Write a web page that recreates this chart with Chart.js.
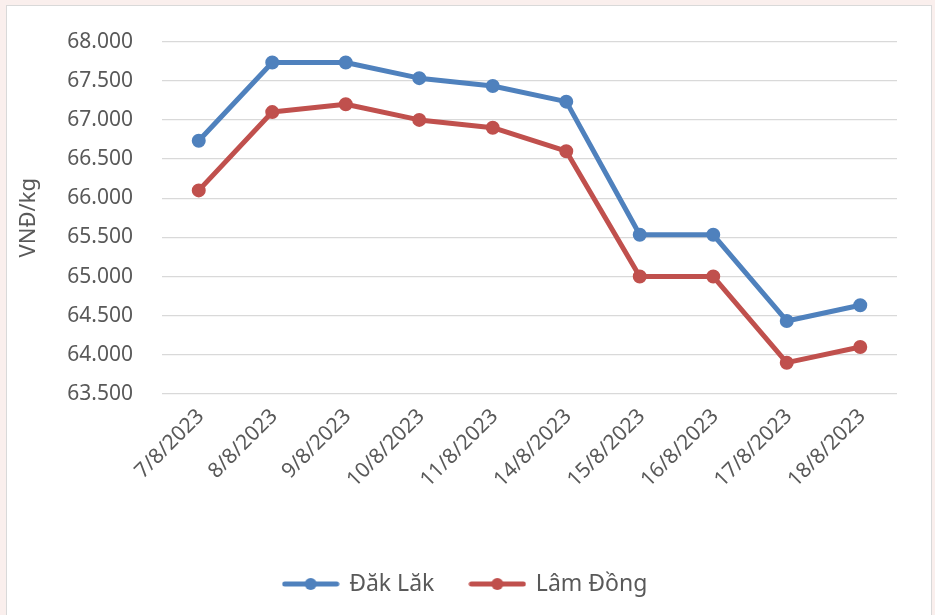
<!DOCTYPE html>
<html>
<head>
<meta charset="utf-8">
<script src="https://cdn.jsdelivr.net/npm/chart.js@4.4.0/dist/chart.umd.min.js"></script>
<style>
  html, body { margin: 0; padding: 0; background: #FAEFED; }
  body { position: relative; width: 935px; height: 615px; overflow: hidden; }
  #frame { position: absolute; left: 6px; top: 5px; width: 926px; height: 650px;
           background: #ffffff; border: 1px solid #D9D9D9; box-sizing: border-box; }
  #wrap { position: absolute; left: 0; top: 0; width: 935px; height: 615px; }
</style>
</head>
<body>
<div id="frame"></div>
<div id="wrap"><canvas id="chart" width="935" height="615"></canvas></div>
<script>
// Coffee price by province, VNĐ/kg
const dates = ['7/8/2023', '8/8/2023', '9/8/2023', '10/8/2023', '11/8/2023',
               '14/8/2023', '15/8/2023', '16/8/2023', '17/8/2023', '18/8/2023'];
const dakLak  = [66733, 67733, 67733, 67533, 67433, 67233, 65533, 65533, 64433, 64633];
const lamDong = [66100, 67100, 67200, 67000, 66900, 66600, 65000, 65000, 63900, 64100];
const seriesNames = ['Đăk Lăk', 'Lâm Đồng'];
const yMin = 63500, yMax = 68000, yStep = 500;

const BLUE = '#4F81BD';
const RED = '#C0504D';
const TEXT = '#595959';
const FONT = "'Noto Sans', 'DejaVu Sans', sans-serif";

// Legend marker: a short line with a dot in the middle
function makeMarker(color) {
  const c = document.createElement('canvas');
  c.width = 58; c.height = 16;
  const g = c.getContext('2d');
  g.strokeStyle = color; g.lineWidth = 5; g.lineCap = 'round';
  g.beginPath(); g.moveTo(3, 8); g.lineTo(55, 8); g.stroke();
  g.fillStyle = color;
  g.beginPath(); g.arc(29, 8, 6, 0, Math.PI * 2); g.fill();
  return c;
}
const markers = [makeMarker(BLUE), makeMarker(RED)];

function lineSet(label, data, color) {
  return {
    label, data,
    borderColor: color, backgroundColor: color,
    borderWidth: 5, borderJoinStyle: 'round', borderCapStyle: 'round',
    pointRadius: 6, pointHoverRadius: 6, pointBorderWidth: 2,
    pointBackgroundColor: color, pointBorderColor: color,
    tension: 0, fill: false, clip: false
  };
}

// Centre the legend row under the whole canvas rather than the padded box
const legendShift = {
  id: 'legendShift',
  afterLayout(chart) {
    const lg = chart.legend;
    if (lg) { lg.left += 17; lg.right += 17; }
  }
};

new Chart(document.getElementById('chart'), {
  type: 'line',
  data: {
    labels: dates,
    datasets: [lineSet(seriesNames[0], dakLak, BLUE), lineSet(seriesNames[1], lamDong, RED)]
  },
  plugins: [legendShift],
  options: {
    responsive: false,
    animation: false,
    events: [],
    layout: { padding: { left: 0, right: 38, top: 40, bottom: 9.5 } },
    plugins: {
      tooltip: { enabled: false },
      legend: {
        position: 'bottom',
        labels: {
          usePointStyle: true,
          pointStyleWidth: 54,
          padding: 36,
          color: TEXT,
          font: { family: FONT, size: 23 },
          generateLabels(chart) {
            const items = Chart.defaults.plugins.legend.labels.generateLabels(chart);
            items.forEach((it, i) => { it.pointStyle = markers[i]; });
            return items;
          }
        }
      }
    },
    scales: {
      x: {
        offset: true,
        grid: { display: false },
        border: { display: false },
        ticks: {
          color: TEXT,
          font: { family: FONT, size: 21 },
          minRotation: 45, maxRotation: 45,
          padding: 2,
          labelOffset: 2,
          autoSkip: false
        },
        afterFit(scale) { scale.height = 142.5; }
      },
      y: {
        min: yMin, max: yMax,
        border: { display: false },
        grid: { color: '#D9D9D9', lineWidth: 1.2, drawTicks: false },
        ticks: {
          stepSize: yStep,
          color: TEXT,
          font: { family: FONT, size: 21 },
          padding: 29,
          callback: v => (v / 1000).toFixed(3)
        },
        title: {
          display: true,
          text: 'VNĐ/kg',
          color: TEXT,
          font: { family: FONT, size: 22 },
          padding: { top: 16, bottom: 0 }
        },
        afterFit(scale) { scale.width = 162; }
      }
    }
  }
});
</script>
</body>
</html>
